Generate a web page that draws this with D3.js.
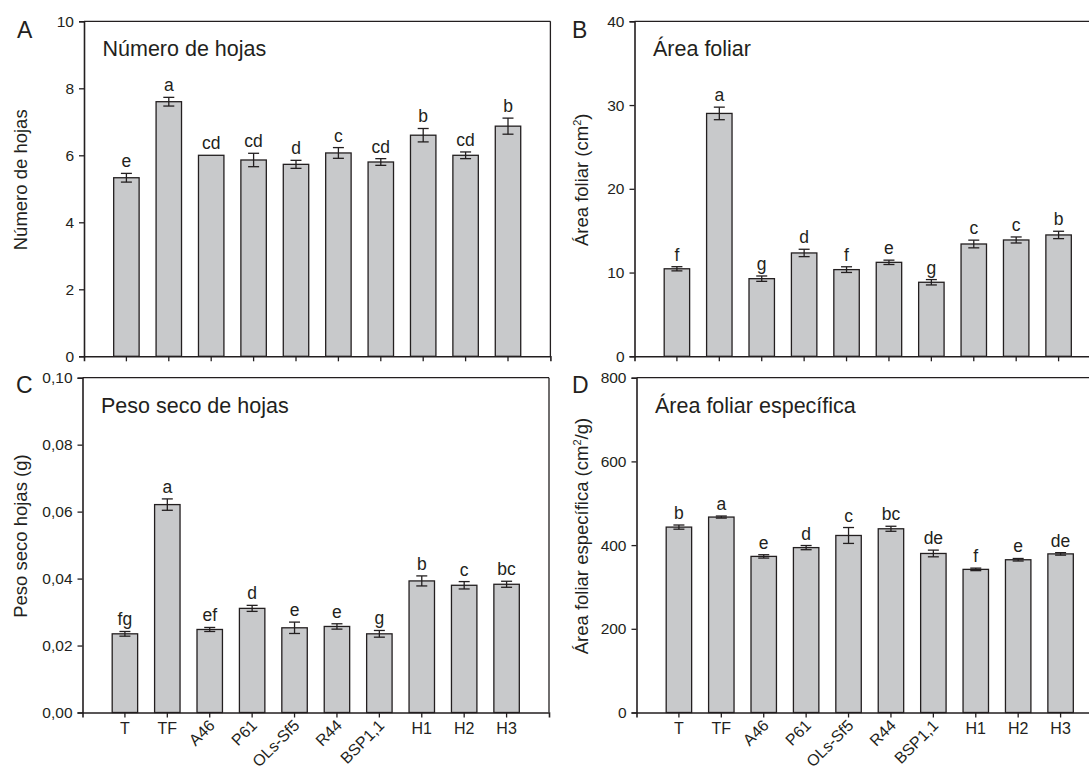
<!DOCTYPE html>
<html>
<head>
<meta charset="utf-8">
<script src="https://cdn.jsdelivr.net/npm/d3@7"></script>
<style>
  html, body { margin: 0; padding: 0; background: #fff; }
  svg { display: block; font-family: "Liberation Sans", Arial, Helvetica, sans-serif; }
</style>
</head>
<body>
<svg id="chart" width="1089" height="769"></svg>
<script>
/* ---------- data ---------- */
const categories = ['T', 'TF', 'A46', 'P61', 'OLs-Sf5', 'R44', 'BSP1,1', 'H1', 'H2', 'H3'];
const rotatedLabels = ['A46', 'P61', 'OLs-Sf5', 'R44', 'BSP1,1'];

const hojasMean = [5.33, 7.6, 6.0, 5.86, 5.73, 6.07, 5.8, 6.6, 6.0, 6.87];
const hojasErr = [0.13, 0.13, 0, 0.2, 0.12, 0.16, 0.1, 0.2, 0.1, 0.24];
const hojasLetters = ['e', 'a', 'cd', 'cd', 'd', 'c', 'cd', 'b', 'cd', 'b'];

const areaMean = [10.45, 29.0, 9.27, 12.34, 10.35, 11.22, 8.84, 13.41, 13.89, 14.49];
const areaErr = [0.25, 0.75, 0.32, 0.44, 0.34, 0.26, 0.32, 0.46, 0.36, 0.44];
const areaLetters = ['f', 'a', 'g', 'd', 'f', 'e', 'g', 'c', 'c', 'b'];

const pesoMean = [0.0235, 0.0621, 0.0248, 0.0311, 0.0253, 0.0257, 0.0235, 0.0393, 0.0380, 0.0383];
const pesoErr = [0.0007, 0.0017, 0.0006, 0.0009, 0.0017, 0.0008, 0.0010, 0.0015, 0.0011, 0.0009];
const pesoLetters = ['fg', 'a', 'ef', 'd', 'e', 'e', 'g', 'b', 'c', 'bc'];

const afeMean = [443, 467, 373, 394, 423, 439, 380, 342, 365, 379];
const afeErr = [5, 2.5, 4, 5, 19, 6, 8, 3, 3, 3];
const afeLetters = ['b', 'a', 'e', 'd', 'c', 'bc', 'de', 'f', 'e', 'de'];

/* ---------- drawing ---------- */
const svg = d3.select('#chart');
const INK = '#231f20';
const BAR = '#c8c9cb';
const FONT = '"Liberation Sans", Arial, Helvetica, sans-serif';

function drawPanel(p) {
  const w = p.right - p.left, h = p.bottom - p.top;
  const g = svg.append('g').attr('transform', `translate(${p.left},${p.top})`);

  const x = d3.scaleBand().domain(categories).range([0, w]).paddingInner(0.4).paddingOuter(0.7);
  const y = d3.scaleLinear().domain(p.domain).range([h, 0]);

  /* frame: top and right */
  g.append('line').attr('x1', 0).attr('x2', w).attr('y1', 0).attr('y2', 0)
    .attr('stroke', INK).attr('stroke-width', 1.3);
  g.append('line').attr('x1', w).attr('x2', w).attr('y1', 0).attr('y2', h)
    .attr('stroke', INK).attr('stroke-width', 1.3);

  /* bars */
  g.selectAll('rect.bar').data(p.mean).join('rect').attr('class', 'bar')
    .attr('x', (d, i) => x(categories[i]))
    .attr('y', d => y(d))
    .attr('width', x.bandwidth())
    .attr('height', d => h - y(d))
    .attr('fill', BAR).attr('stroke', INK).attr('stroke-width', 1.3);

  /* error bars */
  const eb = g.append('g').attr('stroke', INK).attr('stroke-width', 1.3);
  p.mean.forEach((m, i) => {
    const e = p.err[i];
    if (!e) return;
    const cx = x(categories[i]) + x.bandwidth() / 2;
    eb.append('line').attr('x1', cx).attr('x2', cx).attr('y1', y(m - e)).attr('y2', y(m + e));
    [m - e, m + e].forEach(v => eb.append('line')
      .attr('x1', cx - 5.5).attr('x2', cx + 5.5).attr('y1', y(v)).attr('y2', y(v)));
  });

  /* significance letters */
  g.selectAll('text.sig').data(p.letters).join('text').attr('class', 'sig')
    .attr('x', (d, i) => x(categories[i]) + x.bandwidth() / 2)
    .attr('y', (d, i) => y(p.mean[i] + p.err[i]) - 6)
    .attr('text-anchor', 'middle')
    .attr('font-size', 17.5).attr('fill', INK)
    .text(d => d);

  /* axes */
  const yAxis = d3.axisLeft(y).tickValues(p.ticks).tickSize(5).tickPadding(5).tickFormat(p.fmt);
  const ya = g.append('g').call(yAxis)
    .attr('font-size', 15.5).attr('font-family', FONT);
  const xAxis = d3.axisBottom(x).tickSizeInner(5).tickSizeOuter(5).tickFormat('');
  const xa = g.append('g').attr('transform', `translate(0,${h})`).call(xAxis);
  [ya, xa].forEach(a => {
    a.select('.domain').attr('stroke', INK).attr('stroke-width', 1.6);
    a.selectAll('.tick line').attr('stroke', INK).attr('stroke-width', 1.3);
  });
  ya.selectAll('.tick text').attr('fill', INK);

  if (p.xLabels) {
    const xl = g.append('g').attr('font-size', 16).attr('fill', INK);
    categories.forEach(c => {
      const cx = x(c) + x.bandwidth() / 2;
      if (rotatedLabels.includes(c)) {
        xl.append('text')
          .attr('transform', `translate(${cx + 6},${h + 14}) rotate(-45)`)
          .attr('text-anchor', 'end')
          .text(c);
      } else {
        xl.append('text').attr('x', cx).attr('y', h + 21.5)
          .attr('text-anchor', 'middle')
          .text(c);
      }
    });
  }

  /* panel title inside */
  g.append('text').attr('x', 18.5).attr('y', 35)
    .attr('font-size', 21.5).attr('fill', INK)
    .text(p.title);

  /* y-axis title */
  const yt = svg.append('text')
    .attr('transform', `translate(${p.ytX},${p.top + h / 2 - 9}) rotate(-90)`)
    .attr('text-anchor', 'middle')
    .attr('font-size', 18.5).attr('fill', INK);
  p.yTitle.forEach(part => {
    const t = yt.append('tspan').text(part.t);
    if (part.sup) t.attr('dy', -7).attr('font-size', 11);
    if (part.after) t.attr('dy', 7);
  });

  /* panel letter */
  svg.append('text').attr('x', p.letterX).attr('y', p.top + p.letterDy)
    .attr('font-size', 23).attr('fill', INK)
    .text(p.letter);
}

const commaFmt = d => d3.format('.2f')(d).replace('.', ',');

drawPanel({
  letter: 'A', letterX: 17, letterDy: 17,
  left: 84, right: 550.4, top: 21.3, bottom: 356.3,
  domain: [0, 10], ticks: [0, 2, 4, 6, 8, 10], fmt: d3.format('d'),
  mean: hojasMean, err: hojasErr, letters: hojasLetters,
  title: 'Número de hojas', ytX: 27,
  yTitle: [{ t: 'Número de hojas' }], xLabels: false
});

drawPanel({
  letter: 'B', letterX: 572, letterDy: 17,
  left: 634.5, right: 1101, top: 21.3, bottom: 356.3,
  domain: [0, 40], ticks: [0, 10, 20, 30, 40], fmt: d3.format('d'),
  mean: areaMean, err: areaErr, letters: areaLetters,
  title: 'Área foliar', ytX: 588,
  yTitle: [{ t: 'Área foliar (cm' }, { t: '2', sup: true }, { t: ')', after: true }], xLabels: false
});

drawPanel({
  letter: 'C', letterX: 16, letterDy: 15,
  left: 82.5, right: 549, top: 377.7, bottom: 712.5,
  domain: [0, 0.1], ticks: [0, 0.02, 0.04, 0.06, 0.08, 0.1], fmt: commaFmt,
  mean: pesoMean, err: pesoErr, letters: pesoLetters,
  title: 'Peso seco de hojas', ytX: 27,
  yTitle: [{ t: 'Peso seco hojas (g)' }], xLabels: true
});

drawPanel({
  letter: 'D', letterX: 572, letterDy: 15,
  left: 636.5, right: 1103, top: 377.7, bottom: 712.5,
  domain: [0, 800], ticks: [0, 200, 400, 600, 800], fmt: d3.format('d'),
  mean: afeMean, err: afeErr, letters: afeLetters,
  title: 'Área foliar específica', ytX: 588,
  yTitle: [{ t: 'Área foliar específica (cm' }, { t: '2', sup: true }, { t: '/g)', after: true }], xLabels: true
});
</script>
</body>
</html>
